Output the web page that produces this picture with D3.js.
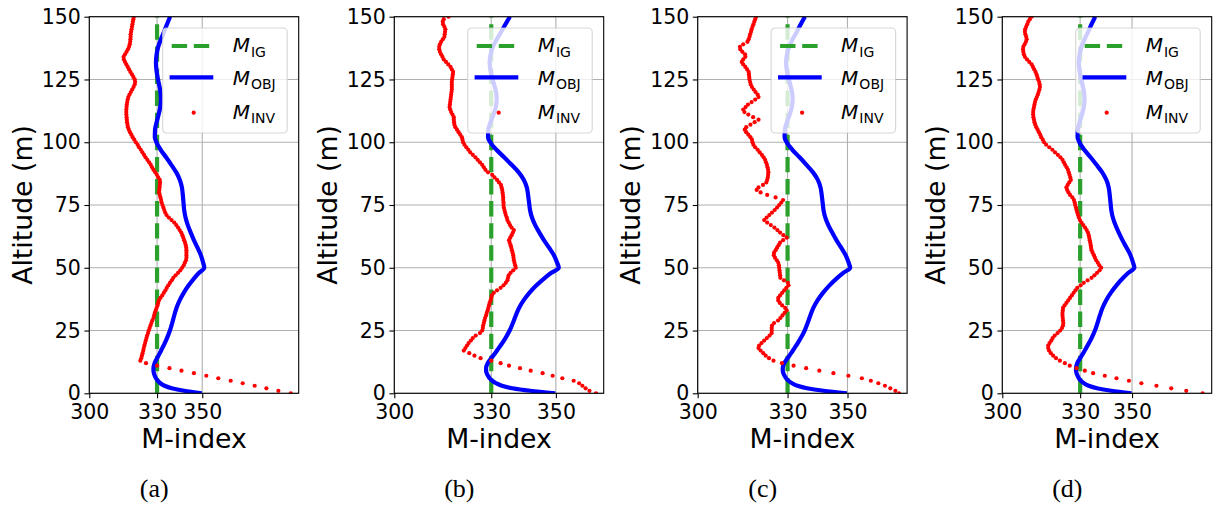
<!DOCTYPE html>
<html><head><meta charset="utf-8">
<script src="https://cdn.jsdelivr.net/npm/d3@7"></script>
<style>body{margin:0;background:#fff}svg{display:block}</style>
</head><body>
<svg id="chart" width="1224" height="507"></svg>
<script>
// ---------- data ----------
const altitudes = d3.range(0, 151); // M_INV sampled every 1 m
const panelLabels = ["(a)", "(b)", "(c)", "(d)"];
const xTicks = [300, 330, 350];
const yTicks = [0, 25, 50, 75, 100, 125, 150];
const xMaxes = [392.7, 364.8, 369.9, 380.7];
const mIG = 330;
const objAlt = [0,1,2,3,4,5,6,7,8,9,10,12,14,16,18,20,22,25,28,31,34,37,40,43,46,48,50,52,55,58,61,64,67,70,73,76,79,82,85,88,91,94,97,100,102,105,108,111,114,117,120,123,126,129,132,135,138,141,144,147,150];
const objVal = [349.8,342,336.5,333.3,331.5,330.3,329.5,329,328.6,328.4,328.4,328.9,330,331.2,332.3,333.4,334.4,335.7,336.7,337.6,338.6,340,341.8,344,346.6,348.6,350.9,350.4,349.4,347.9,346.3,344.9,343.6,342.6,342,341.7,341.4,341,340.1,338.5,336.3,334,331.6,329.7,329,329.1,329.8,330.7,331.4,331.7,331.5,330.9,330.2,329.7,329.5,329.8,330.5,331.7,333.1,334.4,335.8];
const invA = [389.2,383.7,378.4,373.2,367.9,362.6,357.1,351.8,346.3,340.8,
335.5,330.0,325.1,322.6,323.0,323.3,323.6,323.9,324.1,324.4,
324.7,325.0,325.3,325.6,326.0,326.3,326.7,327.1,327.5,327.9,
328.4,328.7,329.0,329.4,329.8,330.2,330.5,330.8,331.5,332.3,
333.0,333.7,334.3,335.0,335.7,336.5,337.2,338.2,339.3,340.3,
341.1,341.8,342.3,342.8,343.0,343.0,343.0,343.0,342.9,342.7,
342.4,342.0,341.6,341.2,340.7,340.0,339.3,338.5,337.6,336.4,
335.2,334.2,333.6,333.2,332.8,332.4,332.0,331.8,331.5,331.2,
330.9,331.0,331.1,331.2,331.3,331.2,330.5,329.9,329.2,328.4,
327.8,327.2,326.5,325.7,324.9,324.2,323.5,322.8,322.0,321.4,
320.6,319.9,319.2,318.6,318.0,317.5,317.1,316.9,316.7,316.6,
316.5,316.4,316.4,316.4,316.5,316.6,316.8,317.0,317.3,317.8,
318.4,319.0,319.6,320.1,320.3,320.1,319.5,318.9,318.2,317.6,
317.0,316.4,315.8,315.3,315.2,315.8,316.5,317.1,317.6,317.9,
318.1,318.2,318.3,318.3,318.5,318.7,318.9,319.1,319.3,319.5,
319.7];
const invB = [362.4,360.4,359.2,358.2,357.2,355.5,352.0,349.0,345.9,342.2,
338.9,335.5,332.9,330.0,326.7,324.8,323.2,321.5,322.0,322.5,
323.0,323.7,324.3,325.2,326.5,327.2,327.4,327.5,327.7,327.9,
328.1,328.4,328.6,328.9,329.1,329.3,329.5,329.8,330.0,330.2,
330.8,331.8,332.9,333.8,334.5,335.0,335.2,335.4,336.0,336.8,
337.6,337.4,337.2,337.0,336.9,336.8,336.6,336.4,336.2,336.0,
335.7,335.5,335.9,336.3,336.7,337.0,336.3,335.8,335.4,335.0,
334.8,334.5,334.3,334.1,333.9,333.8,333.8,333.7,333.7,333.6,
333.5,333.4,333.2,333.0,332.4,331.8,331.0,330.3,329.0,328.2,
327.7,327.2,326.5,325.8,325.1,324.3,323.5,322.9,322.3,321.7,
321.3,321.1,320.9,320.4,319.9,319.4,318.9,318.6,318.5,318.4,
318.4,318.0,317.6,317.3,317.1,317.2,317.3,317.4,317.5,317.6,
317.7,317.8,317.8,317.8,317.8,317.9,318.0,318.1,318.2,317.8,
317.4,316.7,316.0,315.3,314.9,314.5,314.1,313.9,313.9,314.1,
314.5,315.0,315.5,315.6,315.7,315.8,315.5,315.1,315.0,315.3,
316.8];
const invC = [367.2,366.0,364.3,362.5,360.3,357.8,354.8,350.3,345.3,340.6,
336.2,332.0,328.1,325.3,323.8,322.7,321.9,321.0,320.3,320.5,
321.3,322.2,323.1,324.0,324.7,324.7,324.7,324.8,325.5,326.8,
327.6,328.3,329.0,329.7,329.2,328.2,327.4,326.9,326.9,327.5,
328.2,328.9,329.6,330.3,330.1,328.8,327.6,327.5,327.4,327.3,
327.2,327.1,326.9,326.4,325.8,325.4,325.5,326.0,326.5,327.0,
327.5,328.5,329.7,328.6,327.5,326.6,325.6,324.4,323.2,322.2,
323.0,323.9,324.8,325.7,326.5,327.2,327.9,328.5,326.0,323.2,
321.0,319.7,320.3,321.8,322.9,323.2,323.4,323.5,323.6,323.5,
323.3,323.1,322.8,322.5,322.0,321.4,320.7,320.0,319.2,318.6,
318.3,318.1,317.6,316.9,316.2,315.7,316.2,317.6,319.0,320.3,
318.5,316.9,315.6,315.2,316.0,316.8,318.0,319.2,320.3,320.0,
319.3,318.7,318.1,317.7,317.5,317.3,317.2,317.1,317.0,316.5,
315.9,315.2,314.7,315.2,315.9,315.8,314.9,314.2,314.1,315.2,
316.6,317.0,317.3,317.5,317.8,318.0,318.3,318.6,318.9,319.2,
319.5];
const invD = [377.2,370.9,365.1,359.4,353.6,348.8,344.0,339.5,335.0,331.8,
328.6,326.0,324.1,322.2,320.7,319.6,318.7,318.0,317.7,317.7,
318.2,318.9,319.4,320.2,321.3,322.3,323.0,323.4,323.5,323.4,
323.3,323.2,323.2,323.3,323.4,324.0,324.7,325.4,326.1,326.8,
327.5,328.2,328.9,330.2,331.4,332.9,334.4,335.5,336.5,337.5,
338.1,337.4,336.8,336.2,335.7,335.3,334.8,334.4,334.2,334.1,
333.9,333.7,333.5,333.3,333.0,332.5,331.9,331.2,330.5,329.9,
329.5,329.2,328.9,328.6,328.4,328.1,327.9,327.6,327.0,326.1,
325.5,325.0,324.7,325.2,325.8,326.4,326.2,325.9,325.6,325.3,
324.8,324.2,323.7,323.2,322.4,321.4,320.3,319.3,318.1,316.9,
316.1,315.6,315.0,314.6,314.1,313.6,313.1,312.7,312.4,312.2,
312.0,311.9,311.9,312.0,312.2,312.4,312.6,312.9,313.3,313.7,
314.0,314.3,314.5,314.4,314.2,313.8,313.5,313.2,312.8,312.3,
311.8,311.3,310.4,309.5,308.7,308.3,308.1,308.0,308.1,308.6,
309.1,309.4,309.2,308.9,308.7,308.8,309.2,309.6,310.0,310.6,
311.3];
const invSeries = [invA, invB, invC, invD];

// ---------- layout ----------
const plotLefts = [89.3, 394.3, 697.7, 1002.3];
const plotW = 209.4, plotTop = 16.7, plotBottom = 393.3;
const cGreen = "#2ca02c", cBlue = "#0000ff", cRed = "#ff0000";
const font = "'DejaVu Sans', sans-serif";

const svg = d3.select("#chart");
const defs = svg.append("defs");

invSeries.forEach((inv, i) => {
  const L = plotLefts[i];
  const x = d3.scaleLinear().domain([300, xMaxes[i]]).range([L, L + plotW]);
  const y = d3.scaleLinear().domain([0, 150]).range([plotBottom, plotTop]);
  const g = svg.append("g");

  defs.append("clipPath").attr("id", "clip" + i)
    .append("rect").attr("x", L).attr("y", plotTop).attr("width", plotW).attr("height", plotBottom - plotTop);

  // grid
  g.append("g").selectAll("line").data(xTicks).join("line")
    .attr("x1", d => x(d)).attr("x2", d => x(d)).attr("y1", plotTop).attr("y2", plotBottom)
    .attr("stroke", "#b0b0b0").attr("stroke-width", 1.1);
  g.append("g").selectAll("line").data(yTicks).join("line")
    .attr("y1", d => y(d)).attr("y2", d => y(d)).attr("x1", L).attr("x2", L + plotW)
    .attr("stroke", "#b0b0b0").attr("stroke-width", 1.1);

  const data = g.append("g").attr("clip-path", `url(#clip${i})`);
  // M_IG
  data.append("line").attr("x1", x(mIG)).attr("x2", x(mIG)).attr("y1", y(0)).attr("y2", y(150))
    .attr("stroke", cGreen).attr("stroke-width", 4.2).attr("stroke-dasharray", "15.4,6.7");
  // M_OBJ
  const line = d3.line().x(d => x(d[1])).y(d => y(d[0])).curve(d3.curveMonotoneY);
  data.append("path").datum(objAlt.map((a, k) => [a, objVal[k]]))
    .attr("d", line).attr("fill", "none").attr("stroke", cBlue).attr("stroke-width", 4.2);
  // M_INV
  data.append("g").selectAll("circle").data(altitudes.map((a, k) => [a, inv[k]])).join("circle")
    .attr("cx", d => x(d[1])).attr("cy", d => y(d[0])).attr("r", 2.1).attr("fill", cRed);

  // spines
  g.append("rect").attr("x", L).attr("y", plotTop).attr("width", plotW).attr("height", plotBottom - plotTop)
    .attr("fill", "none").attr("stroke", "#000").attr("stroke-width", 1.1);

  // axes
  const ax = g.append("g").attr("transform", `translate(0,${plotBottom})`)
    .call(d3.axisBottom(x).tickValues(xTicks).tickFormat(d3.format("d")).tickSize(4.9).tickSizeOuter(0).tickPadding(6.5));
  const ay = g.append("g").attr("transform", `translate(${L},0)`)
    .call(d3.axisLeft(y).tickValues(yTicks).tickFormat(d3.format("d")).tickSize(4.9).tickSizeOuter(0).tickPadding(3.5));
  [ax, ay].forEach(a => {
    a.select(".domain").remove();
    a.selectAll("line").attr("stroke", "#000").attr("stroke-width", 1.1);
    a.selectAll("text").attr("font-family", font).attr("font-size", 20.5).attr("fill", "#000");
  });

  // axis labels
  g.append("text").attr("x", L + plotW / 2).attr("y", 448).attr("text-anchor", "middle")
    .attr("font-family", font).attr("font-size", 26.7).text("M-index");
  g.append("text").attr("transform", `translate(${L - 57.5},${(plotTop + plotBottom) / 2}) rotate(-90)`)
    .attr("text-anchor", "middle").attr("font-family", font).attr("font-size", 26.7).text("Altitude (m)");

  // caption
  g.append("text").attr("x", L + 65).attr("y", 497).attr("text-anchor", "middle")
    .attr("font-family", "'Liberation Serif', 'DejaVu Serif', serif").attr("font-size", 26).text(panelLabels[i]);

  // legend
  const lw = 124.5, lh = 105;
  const lx = L + plotW - 11.5 - lw, ly = plotTop + 11.3;
  const lg = g.append("g").attr("transform", `translate(${lx},${ly})`);
  lg.append("rect").attr("width", lw).attr("height", lh).attr("rx", 4).attr("ry", 4)
    .attr("fill", "#fff").attr("fill-opacity", 0.8).attr("stroke", "#cccccc").attr("stroke-opacity", 0.8).attr("stroke-width", 1.1);
  lg.append("line").attr("x1", 9).attr("x2", 48.5).attr("y1", 18).attr("y2", 18)
    .attr("stroke", cGreen).attr("stroke-width", 4.2).attr("stroke-dasharray", "15.4,6.7");
  lg.append("line").attr("x1", 9).attr("x2", 48.5).attr("y1", 49.3).attr("y2", 49.3)
    .attr("stroke", cBlue).attr("stroke-width", 4.2).attr("stroke-linecap", "square");
  lg.append("circle").attr("cx", 31).attr("cy", 84.7).attr("r", 2.1).attr("fill", cRed);
  const entries = [["IG", 24.3], ["OBJ", 57], ["INV", 91]];
  entries.forEach(([sub, by]) => {
    const t = lg.append("text").attr("x", 70).attr("y", by).attr("font-family", font).attr("font-size", 20);
    t.append("tspan").attr("font-style", "italic").text("M");
    t.append("tspan").attr("font-size", 14).attr("dy", 4.4).attr("dx", 1).text(sub);
  });
});
</script>
</body></html>
